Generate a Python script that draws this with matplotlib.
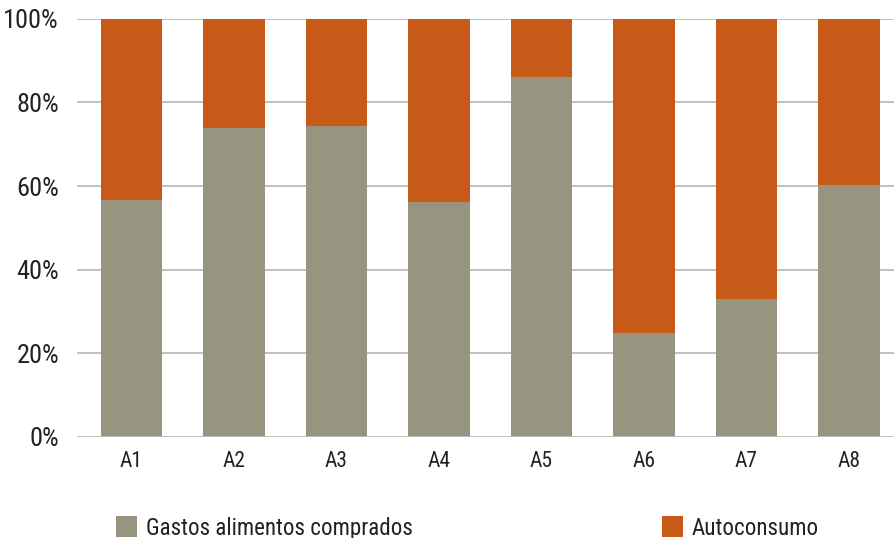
import numpy as np
import matplotlib.pyplot as plt

# Data
categories = ['A1', 'A2', 'A3', 'A4', 'A5', 'A6', 'A7', 'A8']
gastos = [56.7, 73.9, 74.4, 56.2, 86.1, 24.9, 33.0, 60.3]
autoconsumo = [100 - g for g in gastos]
yticks = [0, 20, 40, 60, 80, 100]

gray = '#979580'
orange = '#c85a19'

plt.rcParams['font.family'] = ['Roboto Condensed', 'Liberation Sans Narrow', 'Liberation Sans', 'DejaVu Sans']

fig = plt.figure(figsize=(8.95, 5.38), dpi=100)
ax = fig.add_axes([0.086, 0.188, 0.914, 0.777])

x = np.arange(len(categories))
ax.bar(x, gastos, width=0.6, color=gray, label='Gastos alimentos comprados', zorder=3)
ax.bar(x, autoconsumo, width=0.6, bottom=gastos, color=orange, label='Autoconsumo', zorder=3)

ax.set_ylim(0, 100)
ax.set_xlim(-0.53, 7.45)
ax.set_yticks(yticks)
ax.set_yticklabels([f'{v}%' for v in yticks], fontsize=19, color='#222222')
ax.tick_params(axis='both', length=0)
ax.set_xticks(x)
ax.set_xticklabels(categories, fontsize=15.5, color='#222222')
ax.tick_params(axis='y', pad=13)
ax.tick_params(axis='x', pad=10)

for v in yticks[1:]:
    ax.axhline(v, color='#b5b5b5', lw=1.2, zorder=1)
ax.axhline(0, color='#bdbdbd', lw=2, zorder=4)

for s in ax.spines.values():
    s.set_visible(False)

leg = fig.legend(loc='lower left', bbox_to_anchor=(0.1195, -0.02), ncol=2, frameon=False,
                 fontsize=16.6, handlelength=0.9, handleheight=1.0, handletextpad=0.4,
                 columnspacing=10.8, borderaxespad=0)
for t in leg.get_texts():
    t.set_color('#222222')

fig.savefig('out.png', dpi=100)
